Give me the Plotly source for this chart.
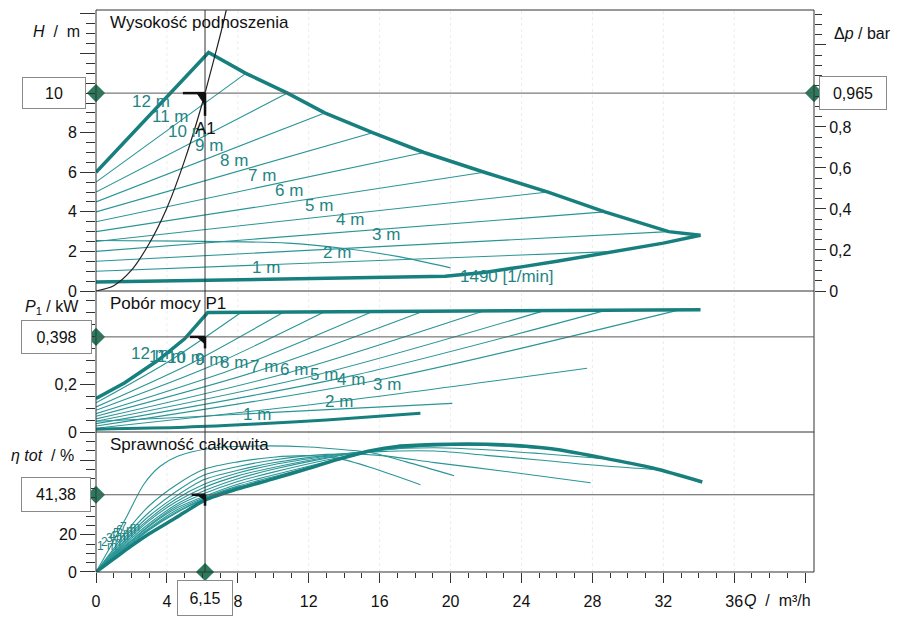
import plotly.graph_objects as go

# ---------------- data ----------------
# duty point
Q_duty, H_duty, dp_duty, P_duty, eta_duty = 6.15, 10.0, 0.965, 0.398, 41.38

# --- head panel: H [m] over Q [m3/h] ---
Q_env = [0, 6.35, 8.45, 10.8, 12.9, 15.6, 18.5, 21.9, 25.5, 28.7, 32.3, 34.1,
         32.0, 30.0, 28.4, 26.0, 24.0, 22.0, 19.7, 10.9, 0]
H_env = [6.0, 12.05, 11.0, 10.0, 9.0, 8.0, 7.0, 6.0, 5.0, 4.0, 3.0, 2.82,
         2.42, 2.1, 1.88, 1.5, 1.22, 0.95, 0.74, 0.6, 0.45]

dpv_H0 = [5.5, 5.0, 4.5, 4.0, 3.5, 3.0, 2.5, 2.0, 1.5, 1.0]
dpv_Qend = [8.45, 10.8, 12.9, 15.6, 18.5, 21.9, 25.5, 28.7, 32.3, 29.4]
dpv_Hend = [11.0, 10.0, 9.0, 8.0, 7.0, 6.0, 5.0, 4.0, 3.0, 2.0]

Q_low = [0, 5, 10.8, 14, 17, 20.0]
H_low = [2.55, 2.52, 2.42, 2.15, 1.75, 1.17]

Q_sys = [0, 1, 2, 3, 4, 5, 6, 6.15, 7, 7.35]
H_sys = [0, 0.27, 1.05, 2.4, 4.2, 6.6, 9.5, 10.0, 12.9, 14.2]

h_lab_text = ["12 m", "11 m", "10 m", "9 m", "8 m", "7 m", "6 m", "5 m", "4 m",
              "3 m", "2 m", "1 m", "1490 [1/min]"]
h_lab_Q = [3.13, 4.23, 5.16, 6.39, 7.8, 9.34, 10.9, 12.6, 14.3, 16.35, 13.6, 9.6, 23.2]
h_lab_H = [9.6, 8.82, 8.07, 7.36, 6.58, 5.83, 5.06, 4.31, 3.59, 2.87, 1.94, 1.19, 0.72]

# --- power panel: P1 [kW] ---
Q_pmax = [0, 1.6, 3.5, 5.0, 6.3, 34.1]
P_pmax = [0.14, 0.205, 0.30, 0.39, 0.50, 0.512]

p_P0 = [0.122, 0.105, 0.091, 0.077, 0.066, 0.055, 0.045, 0.035, 0.025, 0.016]
p_Qmid = [4.1, 5.3, 6.45, 7.8, 9.25, 10.95, 12.65, 14.4, 16.45, 13.85]
p_Pmid = [0.295, 0.285, 0.275, 0.265, 0.258, 0.25, 0.243, 0.235, 0.225, 0.13]
p_Qend = [8.2, 10.6, 12.9, 15.6, 18.5, 21.9, 25.3, 28.8, 32.9, 27.7]
p_Pend = [0.501, 0.502, 0.503, 0.504, 0.506, 0.507, 0.508, 0.51, 0.511, 0.267]

Q_pmin = [0, 5, 9, 13, 18.3]
P_pmin = [0.012, 0.02, 0.033, 0.05, 0.078]
Q_plow = [0, 5, 10, 15, 20.1]
P_plow = [0.045, 0.062, 0.082, 0.101, 0.12]

p_lab_text = ["12 m", "11 m", "10 m", "9 m", "8 m", "7 m", "6 m", "5 m", "4 m", "3 m", "2 m", "1 m"]
p_lab_Q = [3.02, 4.03, 5.1, 6.4, 7.76, 9.45, 11.15, 12.84, 14.4, 16.4, 13.7, 9.06]
p_lab_P = [0.327, 0.317, 0.31, 0.304, 0.289, 0.275, 0.26, 0.242, 0.22, 0.197, 0.126, 0.073]

# --- efficiency panel: eta [%] ---
Q_emax = [0, 1, 2, 3, 4.5, 6.15, 8, 9.9, 12, 13.6, 15.5, 17, 19.1, 21, 22.9, 25.7, 28.5, 31.4, 34.2]
E_emax = [0, 7, 14, 20.5, 29, 38.5, 44.5, 49.6, 55.5, 60.2, 65, 67.3, 68.3, 68.6, 68.2, 66, 61.3, 55.7, 48.2]

eta_Q = [
    [0, 1, 2, 3, 4.5, 6.1, 8.45],
    [0, 1, 2, 3, 4.5, 6.1, 8, 10.8],
    [0, 1, 2, 3, 4.5, 6.1, 8, 10, 12.9],
    [0, 1, 2, 3, 4.5, 6.1, 8, 10, 13, 15.6],
    [0, 1, 2, 3, 4.5, 6.1, 8, 10, 13, 16, 18.5],
    [0, 1, 2, 3, 4.5, 6.1, 8, 10, 13, 16, 19, 21.9],
    [0, 1, 2, 3, 4.5, 6.1, 8, 10, 13, 16, 19.1, 22, 25.5],
    [0, 1, 2, 3, 4.5, 6.1, 8, 10, 13, 16, 19.1, 22, 25, 28.7],
    [0, 1, 2, 3, 4.5, 6.1, 8, 10, 13, 16, 19.1, 22, 25, 28, 31.4],
    [0, 1, 2, 3, 4.5, 6.1, 8, 10, 13, 16, 19.1, 23, 27.9],
    [0, 1, 2, 3, 4.5, 6.1, 8, 10, 12, 13.6, 15.5, 18.3],
    [0, 0.9, 1.8, 2.7, 3.6, 4.6, 6.5, 9, 12, 14, 15.5, 17.5, 20.2],
]
eta_E = [
    [0, 7.5, 15, 22.5, 31.5, 39, 46],
    [0, 7.8, 15.5, 23, 32, 39.3, 45.5, 51.8],
    [0, 8, 16, 23.5, 33, 39.8, 46, 51, 58.2],
    [0, 8.3, 16.5, 24.5, 34, 40.5, 47, 52, 59, 65],
    [0, 8.7, 17, 25, 35, 42, 48.5, 53.5, 60, 65, 67.5],
    [0, 9, 18, 26, 36, 43.5, 50, 55, 61, 65.5, 67.8, 68.4],
    [0, 9.5, 19, 27.5, 37.5, 45.3, 51.5, 56, 61.5, 65.5, 67.5, 67.8, 66],
    [0, 10, 20, 28.5, 39, 47, 53, 57.5, 62, 65.5, 66.6, 65.5, 63.5, 60.7],
    [0, 10.5, 21, 30, 40.5, 49.5, 54.5, 58.5, 62.5, 64.5, 64.8, 62.5, 60, 57.3, 55],
    [0, 11.5, 22.5, 32, 43, 52, 56.5, 60, 63, 62.5, 58.6, 54, 47.8],
    [0, 12.5, 25, 35.5, 46.5, 55, 59, 61.5, 62.3, 61, 56, 46.8],
    [0, 15, 31, 47, 56.5, 62, 66.3, 67.5, 67, 65.5, 64, 59, 51.6],
]
e_lab_text = ["1 m", "2 m", "3 m", "4 m", "5 m", "6 m", "7 m"]
e_lab_Q = [0.6, 0.85, 1.1, 1.3, 1.5, 1.7, 1.9]
e_lab_E = [14, 16, 18, 19.5, 21, 22.5, 24]

Q_ticks = [0, 4, 8, 12, 16, 20, 24, 28, 32, 36, 40]
Q_ticktext = ["0", "4", "8", "12", "16", "20", "24", "28", "32", "36", ""]
H_ticks = [0, 2, 4, 6, 8, 10, 12, 14]
H_ticktext = ["0", "2", "4", "6", "8", "", "", ""]
P_ticks = [0, 0.2, 0.4]
P_ticktext = ["0", "0,2", ""]
E_ticks = [0, 20, 40, 60]
E_ticktext = ["0", "20", "", ""]
dp_ticks = [0, 0.2, 0.4, 0.6, 0.8, 1.0, 1.2]
dp_ticktext = ["0", "0,2", "0,4", "0,6", "0,8", "", ""]

# ---------------- styling ----------------
FONT = "Liberation Sans, Arial, sans-serif"
TEAL = "#17807f"
TEAL_THIN = "#2a9596"
TEAL_TXT = "#1f8584"
DIAM = "#2a7a5c"
GRAY = "#5a5a5a"
Q_MAX_AX = 40.5
H_TOP = 14.2

fig = go.Figure()


def add_line(x, y, yaxis, width, color, shape="linear"):
    fig.add_trace(go.Scatter(x=x, y=y, yaxis=yaxis, mode="lines",
                             line=dict(color=color, width=width, shape=shape, smoothing=0.8),
                             hoverinfo="skip", showlegend=False))


# head panel
for h0, qe, he in zip(dpv_H0, dpv_Qend, dpv_Hend):
    add_line([0, qe], [h0, he], "y3", 1.1, TEAL_THIN)
add_line(Q_low, H_low, "y3", 1.1, TEAL_THIN, "spline")
add_line(Q_env, H_env, "y3", 3.5, TEAL)
add_line(Q_sys, H_sys, "y3", 1.2, "#222222", "spline")

# power panel
for p0, qm, pm, qe, pe in zip(p_P0, p_Qmid, p_Pmid, p_Qend, p_Pend):
    add_line([0, qm, qe], [p0, pm, pe], "y2", 1.1, TEAL_THIN, "spline")
add_line(Q_plow, P_plow, "y2", 1.1, TEAL_THIN, "spline")
add_line(Q_pmin, P_pmin, "y2", 3.0, TEAL, "spline")
add_line(Q_pmax, P_pmax, "y2", 3.5, TEAL)

# efficiency panel
for qs, es in zip(eta_Q, eta_E):
    add_line(qs, es, "y", 1.1, TEAL_THIN, "spline")
add_line(Q_emax, E_emax, "y", 3.5, TEAL, "spline")

# diamond markers at the duty point read-outs
for x, y, ya in [(0, H_duty, "y3"), (0, P_duty, "y2"), (0, eta_duty, "y"), (Q_duty, 0, "y"),
                 (Q_MAX_AX, dp_duty, "y4")]:
    fig.add_trace(go.Scatter(x=[x], y=[y], yaxis=ya, mode="markers", cliponaxis=False,
                             marker=dict(symbol="diamond", size=14, color=DIAM),
                             hoverinfo="skip", showlegend=False))

shapes = []
# faint vertical grid
for q in Q_ticks[1:-1]:
    shapes.append(dict(type="line", xref="x", yref="paper", x0=q, x1=q, y0=0, y1=1,
                       line=dict(color="rgba(0,0,0,0.08)", width=1, dash="dot"), layer="below"))
# frame and panel separators
shapes.append(dict(type="rect", xref="paper", yref="paper", x0=0, x1=1, y0=0, y1=1,
                   line=dict(color="#333", width=1)))
for yy in (0.2491, 0.5):
    shapes.append(dict(type="line", xref="paper", yref="paper", x0=0, x1=1, y0=yy, y1=yy,
                       line=dict(color="#333", width=1)))
# duty reference lines
shapes.append(dict(type="line", xref="x", yref="y3", x0=0, x1=Q_MAX_AX, y0=H_duty, y1=H_duty,
                   line=dict(color=GRAY, width=1)))
shapes.append(dict(type="line", xref="x", yref="y2", x0=0, x1=Q_MAX_AX, y0=P_duty, y1=P_duty,
                   line=dict(color=GRAY, width=1)))
shapes.append(dict(type="line", xref="x", yref="y", x0=0, x1=Q_MAX_AX, y0=eta_duty, y1=eta_duty,
                   line=dict(color=GRAY, width=1)))
shapes.append(dict(type="line", xref="x", yref="paper", x0=Q_duty, x1=Q_duty, y0=0, y1=1,
                   line=dict(color="#333", width=1)))
# duty point corner markers
for yref, yv, dy_stub, dx_stub, dy_tri in [("y3", H_duty, 1.15, 1.25, 0.6),
                                            ("y2", P_duty, 0.048, 0.85, 0.03),
                                            ("y", eta_duty, 5.9, 0.75, 2.9)]:
    shapes.append(dict(type="line", xref="x", yref=yref, x0=Q_duty - dx_stub, x1=Q_duty,
                       y0=yv, y1=yv, line=dict(color="#111", width=2.5)))
    shapes.append(dict(type="line", xref="x", yref=yref, x0=Q_duty, x1=Q_duty,
                       y0=yv, y1=yv - dy_stub, line=dict(color="#111", width=2.5)))
    shapes.append(dict(type="path", xref="x", yref=yref,
                       path=f"M {Q_duty - 0.45},{yv} L {Q_duty},{yv} L {Q_duty},{yv - dy_tri} Z",
                       fillcolor="#111", line=dict(color="#111", width=1)))

ann = []
for t, q, h in zip(h_lab_text, h_lab_Q, h_lab_H):
    ann.append(dict(x=q, y=h, xref="x", yref="y3", text=t, showarrow=False,
                    font=dict(family=FONT, size=17, color=TEAL_TXT)))
for t, q, p in zip(p_lab_text, p_lab_Q, p_lab_P):
    ann.append(dict(x=q, y=p, xref="x", yref="y2", text=t, showarrow=False,
                    font=dict(family=FONT, size=17, color=TEAL_TXT)))
for t, q, e in zip(e_lab_text, e_lab_Q, e_lab_E):
    ann.append(dict(x=q, y=e, xref="x", yref="y", text=t, showarrow=False,
                    font=dict(family=FONT, size=12, color=TEAL_TXT)))
ann.append(dict(x=6.18, y=8.2, xref="x", yref="y3", text="A1", showarrow=False,
                font=dict(family=FONT, size=17, color="#111")))
# panel titles
for t, y, yref in [("Wysokość podnoszenia", 13.55, "y3"), ("Pobór mocy P1", 0.539, "y2"),
                   ("Sprawność całkowita", 68.3, "y")]:
    ann.append(dict(x=0.7, y=y, xref="x", yref=yref, text=t, showarrow=False, xanchor="left",
                    font=dict(family=FONT, size=17, color="#111")))
# axis titles
ann.append(dict(x=0, y=13.1, xref="paper", yref="y3", xanchor="right", xshift=-14,
                text="<i>H</i>  /  m", showarrow=False, font=dict(family=FONT, size=16, color="#111")))
ann.append(dict(x=1, y=13.0, xref="paper", yref="y3", xanchor="left", xshift=18,
                text="Δ<i>p</i> / bar", showarrow=False, font=dict(family=FONT, size=16, color="#111")))
ann.append(dict(x=0, y=0.52, xref="paper", yref="y2", xanchor="right", xshift=-15,
                text="<i>P</i><sub>1</sub> / kW", showarrow=False, font=dict(family=FONT, size=16, color="#111")))
ann.append(dict(x=0, y=62.6, xref="paper", yref="y", xanchor="right", xshift=-20,
                text="<i>η tot</i>  / %", showarrow=False, font=dict(family=FONT, size=16, color="#111")))
ann.append(dict(x=36.45, y=0, xref="x", yref="paper", xanchor="left", yanchor="middle", yshift=-28,
                text="<i>Q</i>  /  m³/h", showarrow=False, font=dict(family=FONT, size=16, color="#111")))
# value boxes
box = dict(showarrow=False, bgcolor="white", bordercolor="#8a8a8a", borderwidth=1,
           font=dict(family=FONT, size=16, color="#111"))
ann.append(dict(x=0, y=H_duty, xref="x", yref="y3", xanchor="right", xshift=-10,
                text="10", width=60, height=28, **box))
ann.append(dict(x=Q_MAX_AX, y=dp_duty, xref="x", yref="y4", xanchor="left", xshift=5,
                text="0,965", width=64, height=30, **box))
ann.append(dict(x=0, y=P_duty, xref="x", yref="y2", xanchor="right", xshift=-4,
                text="0,398", width=67, height=30, **box))
ann.append(dict(x=0, y=eta_duty, xref="x", yref="y", xanchor="right", xshift=-5,
                text="41,38", width=66, height=31, **box))
ann.append(dict(x=Q_duty, y=0, xref="x", yref="y", yanchor="top", yshift=-8,
                text="6,15", width=52, height=32, **box))

tickfont = dict(family=FONT, size=16, color="#111")
yax_common = dict(anchor="x", ticks="outside", ticklen=15, tickcolor="#333", showgrid=False,
                  zeroline=False, showline=False, tickfont=tickfont, tickmode="array",
                  automargin=False)

# the page body adds an 8 px offset, so the figure is sized to fit the 901x620 window
fig.update_layout(
    width=893, height=612,
    margin=dict(l=88, r=87, t=2, b=48),
    paper_bgcolor="white", plot_bgcolor="white",
    showlegend=False,
    xaxis=dict(domain=[0, 1], anchor="y", range=[0, Q_MAX_AX], tickmode="array",
               tickvals=Q_ticks, ticktext=Q_ticktext, ticks="outside", ticklen=10,
               tickcolor="#333", showgrid=False, zeroline=False, showline=False,
               tickfont=tickfont, ticklabelstandoff=5, automargin=False,
               minor=dict(dtick=1, tick0=0, ticks="outside", ticklen=5, tickcolor="#333",
                          showgrid=False)),
    yaxis=dict(domain=[0, 0.2491], range=[0, 75], tickvals=E_ticks, ticktext=E_ticktext,
               minor=dict(dtick=5, tick0=0, ticks="outside", ticklen=9, tickcolor="#333",
                          showgrid=False), **yax_common),
    yaxis2=dict(domain=[0.2491, 0.5], range=[0, 0.59], tickvals=P_ticks, ticktext=P_ticktext,
                minor=dict(dtick=0.05, tick0=0, ticks="outside", ticklen=9, tickcolor="#333",
                           showgrid=False), **yax_common),
    yaxis3=dict(domain=[0.5, 1], range=[0, H_TOP], tickvals=H_ticks, ticktext=H_ticktext,
                minor=dict(dtick=0.5, tick0=0, ticks="outside", ticklen=9, tickcolor="#333",
                           showgrid=False), **yax_common),
    yaxis4=dict(overlaying="y3", side="right", anchor="x",
                range=[0, H_TOP * dp_duty / H_duty], tickmode="array",
                tickvals=dp_ticks, ticktext=dp_ticktext, ticks="outside", ticklen=11,
                tickcolor="#333", showgrid=False, zeroline=False, showline=False,
                tickfont=tickfont, automargin=False,
                minor=dict(dtick=0.05, tick0=0, ticks="outside", ticklen=7, tickcolor="#333",
                           showgrid=False)),
    shapes=shapes,
    annotations=ann,
)

fig.write_html("out.html")
